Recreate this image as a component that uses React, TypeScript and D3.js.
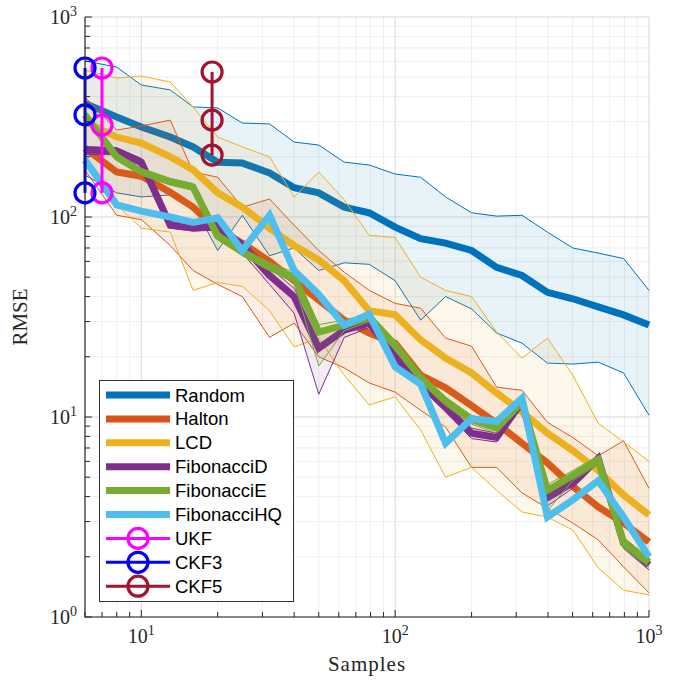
import React from 'react';
import * as d3 from 'd3';

// sample counts on the x axis
const samples = [6, 8, 10, 13, 16, 20, 25, 32, 40, 50, 63, 79, 100, 126, 158, 200, 251, 316, 398, 501, 631, 794, 1000];

// Random
const randomMean = [370, 316, 282, 251, 224, 188, 186, 166, 140, 132, 112, 105, 89, 78, 74, 68, 56, 51, 42, 39, 35.5, 32.4, 28.8];
const randomLow = [162, 132, 126, 129, 115, 68, 102, 64, 70, 54, 59, 58, 48, 30.5, 40, 34.7, 26.3, 23.4, 18.6, 18.4, 18.8, 16.6, 10.2];
const randomHigh = [603, 562, 457, 432, 355, 351, 295, 292, 237, 229, 188, 182, 164, 158, 126, 105, 101, 102, 84, 70, 66, 62, 43];

// Halton
const haltonMean = [221, 168, 160, 133, 112, 86, 74, 60, 48, 38.5, 30.5, 26.3, 23.4, 16.2, 14, 11.4, 9.3, 7.4, 5.9, 4.5, 3.55, 2.95, 2.37];
const haltonLow = [171, 102, 97, 72, 54, 46, 40, 25, 29.5, 20, 17.6, 14.8, 13.3, 10.8, 8.9, 5.6, 5.6, 4.17, 3.5, 2.95, 2.43, 1.78, 1.32];
const haltonHigh = [398, 272, 285, 305, 168, 158, 112, 123, 91, 68, 53, 43, 37, 35, 24.8, 22.6, 14.1, 13.6, 9.4, 7.9, 6.4, 7.6, 4.4];

// LCD
const lcdMean = [300, 251, 234, 200, 172, 132, 112, 88, 72, 61, 48, 34, 32.4, 24.3, 19.7, 16.6, 13.2, 10.6, 8.3, 6.8, 5.4, 4.07, 3.24];
const lcdLow = [182, 115, 88, 84, 43, 47, 45, 34, 22.4, 24.8, 16.2, 11.5, 12.6, 8.6, 5.0, 5.6, 4.3, 3.35, 3.16, 2.72, 1.76, 1.36, 1.29];
const lcdHigh = [543, 495, 507, 473, 355, 251, 224, 200, 126, 168, 122, 81, 79, 50, 43, 40, 26.6, 19.7, 24.8, 16.2, 9.3, 7.5, 6.0];

// FibonacciD
const fibDMean = [216, 214, 188, 91, 88, 90, 72, 51, 40, 22.1, 27.2, 29.5, 20, 14.8, 11.2, 8.3, 7.9, 11.9, 3.94, 4.7, 6.2, 2.34, 1.82];
const fibDLow = [205, 205, 180, 88, 85, 86, 66, 46, 33, 13, 25, 28, 19, 14, 10.6, 7.8, 7.5, 11.4, 3.6, 4.4, 5.9, 2.2, 1.72];
const fibDHigh = [225, 222, 196, 95, 92, 94, 76, 56, 44, 26, 29, 31, 21, 15.6, 11.8, 8.8, 8.3, 12.4, 4.3, 5.0, 6.5, 2.5, 1.92];

// FibonacciE
const fibEMean = [324, 200, 168, 150, 141, 80, 67, 56, 50, 26.6, 28.8, 31.6, 22.9, 15.7, 12, 9.7, 8.8, 11.9, 4.3, 5.1, 6.1, 2.34, 1.88];
const fibELow = [310, 192, 162, 145, 136, 77, 64, 54, 47, 18, 27, 30, 21.5, 15, 11.4, 9.2, 8.3, 11.4, 3.4, 4.8, 5.8, 2.2, 1.78];
const fibEHigh = [338, 208, 175, 156, 147, 84, 70, 59, 53, 29, 30.5, 33, 24, 16.5, 12.6, 10.2, 9.3, 12.4, 4.6, 5.4, 6.4, 2.5, 1.98];

// FibonacciHQ
const fibHQMean = [193, 115, 107, 100, 94, 99, 68, 102, 54, 41, 28.8, 32.7, 17.8, 14.6, 7.4, 9.8, 9.5, 12.4, 3.16, 3.85, 4.8, 3.16, 2.0];

// Kalman filter points
const ukfSamples = 7;
const ukfValues = [556, 288, 132];
const ckf3Samples = 6;
const ckf3Values = [556, 324, 132];
const ckf5Samples = 19;
const ckf5Values = [531, 305, 204];

const xTicks = [10, 100, 1000];
const yTicks = [1, 10, 100, 1000];

const serif = '"Liberation Serif", "Times New Roman", serif';
const sans = '"Liberation Sans", Arial, sans-serif';

type Series = {
  name: string;
  color: string;
  mean: number[];
  low?: number[];
  high?: number[];
};

const series: Series[] = [
  { name: 'Random', color: '#0072BD', mean: randomMean, low: randomLow, high: randomHigh },
  { name: 'Halton', color: '#D95319', mean: haltonMean, low: haltonLow, high: haltonHigh },
  { name: 'LCD', color: '#EDB120', mean: lcdMean, low: lcdLow, high: lcdHigh },
  { name: 'FibonacciD', color: '#7E2F8E', mean: fibDMean, low: fibDLow, high: fibDHigh },
  { name: 'FibonacciE', color: '#77AC30', mean: fibEMean, low: fibELow, high: fibEHigh },
  { name: 'FibonacciHQ', color: '#4DBEEE', mean: fibHQMean },
];

const markers = [
  { name: 'UKF', color: '#FF00FF', s: ukfSamples, values: ukfValues },
  { name: 'CKF3', color: '#0000FF', s: ckf3Samples, values: ckf3Values },
  { name: 'CKF5', color: '#A2142F', s: ckf5Samples, values: ckf5Values },
];

const App = () => {
  const left = 85;
  const right = 649;
  const top = 17;
  const bottom = 617;

  const x = d3.scaleLog().domain([6, 1000]).range([left, right]);
  const y = d3.scaleLog().domain([1, 1000]).range([bottom, top]);

  // minor grid positions
  const xMinor: number[] = [];
  [1, 10, 100].forEach((d) => {
    for (let k = 2; k <= 9; k++) {
      const v = d * k;
      if (v >= 6 && v <= 1000 && v !== 10 && v !== 100) xMinor.push(v);
    }
  });
  const yMinor: number[] = [];
  [1, 10, 100].forEach((d) => {
    for (let k = 2; k <= 9; k++) yMinor.push(d * k);
  });

  const idx = samples.map((_, i) => i);
  const lineGen = (vals: number[]) =>
    d3
      .line<number>()
      .x((i) => x(samples[i]))
      .y((i) => y(vals[i]))(idx) ?? '';
  const areaGen = (lo: number[], hi: number[]) =>
    d3
      .area<number>()
      .x((i) => x(samples[i]))
      .y0((i) => y(lo[i]))
      .y1((i) => y(hi[i]))(idx) ?? '';

  const legendX0 = 106;
  const legendX1 = 170;
  const legendRow = (i: number) => 395 + i * 23.9;

  return (
    <svg
      width={680}
      height={680}
      style={{ position: 'absolute', left: 0, top: 0, background: '#fff' }}
    >
      {/* grid */}
      {xMinor.map((v) => (
        <line key={'xm' + v} x1={x(v)} x2={x(v)} y1={top} y2={bottom} stroke="#efefef" strokeWidth={1} />
      ))}
      {yMinor.map((v) => (
        <line key={'ym' + v} x1={left} x2={right} y1={y(v)} y2={y(v)} stroke="#efefef" strokeWidth={1} />
      ))}
      {xTicks.map((v) => (
        <line key={'xg' + v} x1={x(v)} x2={x(v)} y1={top} y2={bottom} stroke="#d9d9d9" strokeWidth={1} />
      ))}
      {yTicks.map((v) => (
        <line key={'yg' + v} x1={left} x2={right} y1={y(v)} y2={y(v)} stroke="#d9d9d9" strokeWidth={1} />
      ))}

      {/* series: band then mean */}
      {series.map((s) => (
        <g key={s.name}>
          {s.low && s.high && (
            <>
              <path d={areaGen(s.low, s.high)} fill={s.color} fillOpacity={0.09} stroke="none" />
              <path d={lineGen(s.low)} fill="none" stroke={s.color} strokeWidth={1} />
              <path d={lineGen(s.high)} fill="none" stroke={s.color} strokeWidth={1} />
            </>
          )}
          <path
            d={lineGen(s.mean)}
            fill="none"
            stroke={s.color}
            strokeWidth={7}
            strokeLinejoin="miter"
            strokeMiterlimit={3}
          />
        </g>
      ))}

      {/* filter markers */}
      {markers.map((m) => (
        <g key={m.name}>
          <line
            x1={x(m.s)}
            x2={x(m.s)}
            y1={y(d3.max(m.values) ?? 1)}
            y2={y(d3.min(m.values) ?? 1)}
            stroke={m.color}
            strokeWidth={3}
          />
          {m.values.map((v, i) => (
            <circle key={i} cx={x(m.s)} cy={y(v)} r={10} fill="none" stroke={m.color} strokeWidth={3.2} />
          ))}
        </g>
      ))}

      {/* axes */}
      <line x1={left} x2={left} y1={top} y2={bottom + 0.5} stroke="#262626" strokeWidth={1.2} />
      <line x1={left} x2={right} y1={bottom} y2={bottom} stroke="#262626" strokeWidth={1.2} />
      {xMinor.map((v) => (
        <line key={'xt' + v} x1={x(v)} x2={x(v)} y1={bottom} y2={bottom - 5} stroke="#262626" />
      ))}
      {xTicks.map((v) => (
        <line key={'xT' + v} x1={x(v)} x2={x(v)} y1={bottom} y2={bottom - 7} stroke="#262626" />
      ))}
      {yMinor.map((v) => (
        <line key={'yt' + v} x1={left} x2={left + 5} y1={y(v)} y2={y(v)} stroke="#262626" />
      ))}
      {yTicks.map((v) => (
        <line key={'yT' + v} x1={left} x2={left + 7} y1={y(v)} y2={y(v)} stroke="#262626" />
      ))}

      {/* tick labels */}
      {xTicks.map((v) => (
        <text key={'xl' + v} x={x(v)} y={643} textAnchor="middle" fontFamily={serif} fontSize={20} fill="#262626">
          10
          <tspan dy={-8} fontSize={14}>
            {Math.round(Math.log10(v))}
          </tspan>
        </text>
      ))}
      {yTicks.map((v) => (
        <text key={'yl' + v} x={77} y={y(v) + 7} textAnchor="end" fontFamily={serif} fontSize={20} fill="#262626">
          10
          <tspan dy={-8} fontSize={14}>
            {Math.round(Math.log10(v))}
          </tspan>
        </text>
      ))}

      {/* axis labels */}
      <text x={367} y={671} textAnchor="middle" fontFamily={serif} fontSize={21} letterSpacing={1} fill="#262626">
        Samples
      </text>
      <text
        transform={`translate(27,${(top + bottom) / 2}) rotate(-90)`}
        textAnchor="middle"
        fontFamily={serif}
        fontSize={21}
        fill="#262626"
      >
        RMSE
      </text>

      {/* legend */}
      <rect x={99.5} y={380.5} width={194} height={221} fill="#fff" stroke="#333" strokeWidth={1} />
      {series.map((s, i) => (
        <g key={'lg' + s.name}>
          <line x1={legendX0} x2={legendX1} y1={legendRow(i)} y2={legendRow(i)} stroke={s.color} strokeWidth={7} />
          <text x={175} y={legendRow(i) + 6.5} fontFamily={sans} fontSize={18.5} fill="#000">
            {s.name}
          </text>
        </g>
      ))}
      {markers.map((m, j) => {
        const i = series.length + j;
        return (
          <g key={'lg' + m.name}>
            <line x1={legendX0} x2={legendX1} y1={legendRow(i)} y2={legendRow(i)} stroke={m.color} strokeWidth={3} />
            <circle cx={(legendX0 + legendX1) / 2} cy={legendRow(i)} r={10} fill="none" stroke={m.color} strokeWidth={3.2} />
            <text x={175} y={legendRow(i) + 6.5} fontFamily={sans} fontSize={18.5} fill="#000">
              {m.name}
            </text>
          </g>
        );
      })}
    </svg>
  );
};

export default App;
